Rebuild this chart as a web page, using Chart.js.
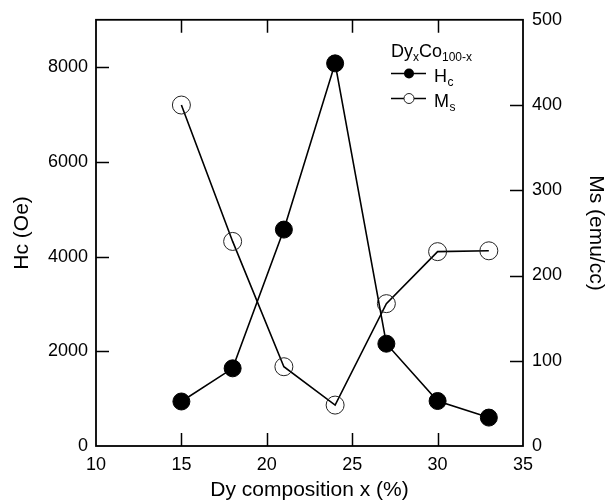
<!DOCTYPE html>
<html><head><meta charset="utf-8">
<script src="https://cdn.jsdelivr.net/npm/chart.js@4"></script>
<style>html,body{margin:0;padding:0;background:#fff;} canvas{display:block;}</style>
</head><body>
<canvas id="c" width="606" height="502"></canvas>
<script>
const composition = [15, 18, 21, 24, 27, 30, 33];
const hcValues = [940, 1640, 4570, 8080, 2160, 950, 600];
const msValues = [400, 240, 93, 48, 167, 228, 229];
const xTicks = [10, 15, 20, 25, 30, 35];
const hcTicks = [0, 2000, 4000, 6000, 8000];
const msTicks = [0, 100, 200, 300, 400, 500];
const FONT = "'Liberation Sans', Arial, Helvetica, sans-serif";

const toPts = (ys) => composition.map((x, i) => ({ x: x, y: ys[i] }));

const framePlugin = {
  id: 'frame',
  beforeDatasetsDraw(chart) {
    const { ctx, chartArea: a, scales } = chart;
    const L = 13;
    ctx.save();
    ctx.strokeStyle = '#000';
    ctx.lineWidth = 1.5;
    ctx.beginPath();
    xTicks.forEach(v => {
      if (v <= scales.x.min || v >= scales.x.max) return;
      const px = Math.round(scales.x.getPixelForValue(v)) + 0.5;
      ctx.moveTo(px, a.bottom); ctx.lineTo(px, a.bottom - L);
      ctx.moveTo(px, a.top); ctx.lineTo(px, a.top + L);
    });
    hcTicks.forEach(v => {
      if (v <= scales.y.min || v >= scales.y.max) return;
      const py = Math.round(scales.y.getPixelForValue(v)) + 0.5;
      ctx.moveTo(a.left, py); ctx.lineTo(a.left + L, py);
    });
    msTicks.forEach(v => {
      if (v <= scales.y2.min || v >= scales.y2.max) return;
      const py = Math.round(scales.y2.getPixelForValue(v)) + 0.5;
      ctx.moveTo(a.right, py); ctx.lineTo(a.right - L, py);
    });
    ctx.stroke();
    ctx.lineWidth = 1.8;
    ctx.strokeRect(a.left, a.top, a.right - a.left, a.bottom - a.top);
    ctx.restore();
  }
};

const legendTitle = ['Dy', 'x', 'Co', '100-x'];
const legendRows = [
  { main: 'H', sub: 'c', filled: true },
  { main: 'M', sub: 's', filled: false }
];

const legendPlugin = {
  id: 'customLegend',
  afterDraw(chart) {
    const ctx = chart.ctx;
    ctx.save();
    ctx.fillStyle = '#000';
    ctx.textAlign = 'left';
    ctx.textBaseline = 'alphabetic';
    let x = 391, y = 57;
    legendTitle.forEach((t, i) => {
      const sub = i % 2 === 1;
      ctx.font = (sub ? '12px ' : '18px ') + FONT;
      ctx.fillText(t, x, sub ? y + 4 : y);
      x += ctx.measureText(t).width;
    });
    legendRows.forEach((r, i) => {
      const ly = 73.5 + i * 25;
      ctx.strokeStyle = '#000';
      ctx.lineWidth = 1.5;
      ctx.beginPath();
      ctx.moveTo(391, ly); ctx.lineTo(426, ly);
      ctx.stroke();
      ctx.beginPath();
      ctx.arc(409, ly, 5, 0, Math.PI * 2);
      if (r.filled) { ctx.fillStyle = '#000'; ctx.fill(); }
      else { ctx.fillStyle = '#fff'; ctx.fill(); ctx.lineWidth = 1; ctx.strokeStyle = '#222'; ctx.stroke(); }
      ctx.fillStyle = '#000';
      ctx.font = '18px ' + FONT;
      ctx.fillText(r.main, 434, ly + 8);
      const w = ctx.measureText(r.main).width;
      ctx.font = '12px ' + FONT;
      ctx.fillText(r.sub, 434 + w + 0.5, ly + 12);
    });
    ctx.restore();
  }
};

const tickFont = { family: FONT, size: 18 };
const titleFont = { family: FONT, size: 21, lineHeight: 1 };
const plain = v => String(v);

new Chart(document.getElementById('c'), {
  type: 'scatter',
  data: {
    datasets: [
      {
        label: 'Hc', data: toPts(hcValues), yAxisID: 'y', showLine: true,
        borderColor: '#000', borderWidth: 1.6, backgroundColor: '#000',
        pointRadius: 8.5, pointBorderWidth: 1, pointBorderColor: '#000', pointBackgroundColor: '#000'
      },
      {
        label: 'Ms', data: toPts(msValues), yAxisID: 'y2', showLine: true,
        borderColor: '#000', borderWidth: 1.6, backgroundColor: 'rgba(0,0,0,0)',
        pointRadius: 9, pointBorderWidth: 1, pointBorderColor: '#222', pointBackgroundColor: 'rgba(0,0,0,0)'
      }
    ]
  },
  options: {
    responsive: false,
    animation: false,
    devicePixelRatio: 1,
    layout: { padding: { top: 18, left: 0, right: 0, bottom: 0 } },
    plugins: { legend: { display: false }, tooltip: { enabled: false } },
    scales: {
      x: {
        type: 'linear', position: 'bottom', min: 10, max: 35,
        afterBuildTicks: s => { s.ticks = xTicks.map(v => ({ value: v })); },
        grid: { display: false, drawTicks: false }, border: { display: false },
        ticks: { padding: 8, color: '#000', font: tickFont, maxRotation: 0, callback: plain },
        title: { display: true, text: 'Dy composition x (%)', color: '#000', font: titleFont, padding: { top: 0, bottom: 1.5 } },
        afterFit: s => { s.height = 56; }
      },
      y: {
        type: 'linear', position: 'left', min: 0, max: 9000,
        afterBuildTicks: s => { s.ticks = hcTicks.map(v => ({ value: v })); },
        grid: { display: false, drawTicks: false }, border: { display: false },
        ticks: { padding: 8, color: '#000', font: tickFont, callback: plain },
        title: { display: true, text: 'Hc (Oe)', color: '#000', font: titleFont, padding: { top: 12, bottom: 0 } },
        afterFit: s => { s.width = 96; }
      },
      y2: {
        type: 'linear', position: 'right', min: 0, max: 500,
        afterBuildTicks: s => { s.ticks = msTicks.map(v => ({ value: v })); },
        grid: { display: false, drawTicks: false }, border: { display: false },
        ticks: { padding: 9, color: '#000', font: tickFont, callback: plain },
        title: { display: true, text: 'Ms (emu/cc)', color: '#000', font: titleFont, padding: { top: 0, bottom: 0 } },
        afterFit: s => { s.width = 83; }
      }
    }
  },
  plugins: [framePlugin, legendPlugin]
});
</script>
</body></html>
